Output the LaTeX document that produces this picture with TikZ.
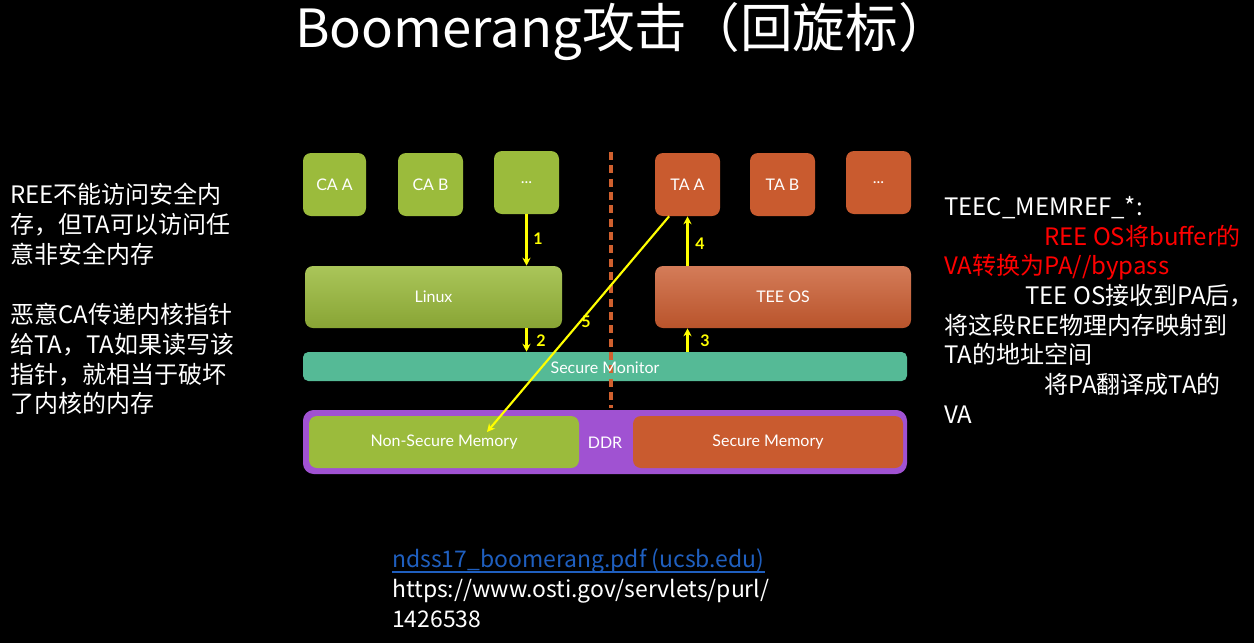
\documentclass[tikz,border=0pt]{standalone}
\usepackage{fontspec}
\setmainfont{Noto Sans CJK SC}
\newfontfamily\diagfont{Lato}
\usetikzlibrary{fit,calc,arrows.meta}
\definecolor{bggreen}{HTML}{9BBB3C}
\definecolor{bgorange}{HTML}{C95B2F}
\definecolor{smteal}{HTML}{55BA96}
\definecolor{ddrpurple}{HTML}{A052D2}
\definecolor{dashorange}{HTML}{D0602E}
\definecolor{arrowyellow}{HTML}{FFFF00}
\definecolor{linkblue}{HTML}{1F5FBF}
\definecolor{redtext}{HTML}{FF0000}
\tikzset{
  diaglabel/.style={text=white, inner sep=0pt, font=\diagfont\fontsize{12}{14}\selectfont},
  box/.style={inner sep=0pt, rounded corners=6pt},
  greenbox/.style={box, fill=bggreen},
  orangebox/.style={box, fill=bgorange},
  greenlayer/.style={box, top color=bggreen!85!white, bottom color=bggreen!88!black},
  orangelayer/.style={box, top color=bgorange!80!white, bottom color=bgorange!92!black},
  yarrow/.style={draw=arrowyellow, line width=1.6pt, -{Stealth[length=6pt,width=6pt]}},
  numlabel/.style={text=arrowyellow, font=\diagfont\bfseries\fontsize{12}{13}\selectfont},
  bodytext/.style={anchor=base west, inner sep=0pt, text=white, font=\fontsize{18}{21}\selectfont},
  reftext/.style={bodytext, font=\fontsize{17.2}{20}\selectfont},
}
\begin{document}
\begin{tikzpicture}[x=0.75pt,y=-0.75pt]
\fill[black] (0,0) rectangle (1254,643);
\useasboundingbox (0,0) rectangle (1254,643);

% title
\node[anchor=base, inner sep=0pt, text=white, font=\fontsize{39.5}{46}\selectfont] (title) at (623,47) {Boomerang攻击（回旋标）};

% top row
\node[greenbox, fit={(303,153) (366,216)}, label={[diaglabel]center:CA A}] (caa) {};
\node[greenbox, fit={(398,153) (463,216)}, label={[diaglabel]center:CA B}] (cab) {};
\node[greenbox, fit={(494,151) (559,214)}, label={[diaglabel]center:...}] (cadots) {};
\node[orangebox, fit={(655,153) (720,216)}, label={[diaglabel]center:TA A}] (taa) {};
\node[orangebox, fit={(750,153) (815,216)}, label={[diaglabel]center:TA B}] (tab) {};
\node[orangebox, fit={(846,151) (911,214)}, label={[diaglabel]center:...}] (tadots) {};

% OS layers
\node[greenlayer, fit={(305,266) (562,328)}, label={[diaglabel]center:Linux}] (linux) {};
\node[orangelayer, fit={(655,266) (911,328)}, label={[diaglabel]center:TEE OS}] (teeos) {};

% secure monitor
\node[box, fill=smteal, rounded corners=4pt, fit={(303,352) (907,381)}] (monitor) {};

% DDR
\node[box, fill=ddrpurple, rounded corners=8pt, fit={(303,410) (907,474)}] (ddr) {};
\node[greenbox, fit={(309,416) (579,468)}, label={[diaglabel]center:Non-Secure Memory}] (nonsec) {};
\node[orangebox, fit={(633,416) (903,468)}, label={[diaglabel]center:Secure Memory}] (secmem) {};
\node[diaglabel] (ddrlabel) at (605,443) {DDR};

% dashed divider
\coordinate (divtop) at (611,152);
\coordinate (divbot) at (611,408);
\draw[dashorange, line width=3pt, dash pattern=on 6pt off 4pt] (divtop) -- (divbot);

% arrows
\draw[yarrow] (cadots.south) -- (cadots.south |- linux.north);
\node[numlabel] (n1) at (538,239) {1};
\draw[yarrow] (cadots.south |- linux.south) -- (cadots.south |- monitor.north);
\node[numlabel] (n2) at (541,341) {2};
\draw[yarrow] (taa.south |- monitor.north) -- (taa.south |- teeos.south);
\node[numlabel] (n3) at (705,341) {3};
\draw[yarrow] (taa.south |- teeos.north) -- (taa.south);
\node[numlabel] (n4) at (700,244) {4};

\node[diaglabel] (monlabel) at ($(monitor.center)+(0,1)$) {Secure Monitor};
\draw[yarrow] ($(taa.south west)!0.22!(taa.south east)$) -- ($(nonsec.center)+(43,-10)$);
\node[numlabel] (n5) at (586,322) {5};

% left text
\node[bodytext] (l1) at (10,203) {REE不能访问安全内};
\node[bodytext] (l2) at (10,233) {存，但TA可以访问任};
\node[bodytext] (l3) at (10,263) {意非安全内存};
\node[bodytext] (l4) at (10,323) {恶意CA传递内核指针};
\node[bodytext] (l5) at (10,353) {给TA，TA如果读写该};
\node[bodytext] (l6) at (10,383) {指针，就相当于破坏};
\node[bodytext] (l7) at (10,412) {了内核的内存};

% right text
\node[bodytext] (r1) at (944,215) {TEEC\_MEMREF\_*:};
\node[bodytext, text=redtext] (r2) at (1044,245) {REE OS将buffer的};
\node[bodytext, text=redtext] (r3) at (944,274) {VA转换为PA//bypass};
\node[bodytext] (r4) at (1025,304) {TEE OS接收到PA后，};
\node[bodytext] (r5) at (944,334) {将这段REE物理内存映射到};
\node[bodytext] (r6) at (944,363) {TA的地址空间};
\node[bodytext] (r7) at (1044,393) {将PA翻译成TA的};
\node[bodytext] (r8) at (944,423) {VA};

% references
\node[reftext, text=linkblue] (ref1) at (392,567) {ndss17\_boomerang.pdf (ucsb.edu)};
\draw[linkblue, line width=0.9pt] ($(ref1.base west)+(0,5)$) -- ($(ref1.base east)+(0,5)$);
\node[reftext] (ref2) at (392,597) {https://www.osti.gov/servlets/purl/};
\node[reftext] (ref3) at (392,627) {1426538};
\end{tikzpicture}
\end{document}
